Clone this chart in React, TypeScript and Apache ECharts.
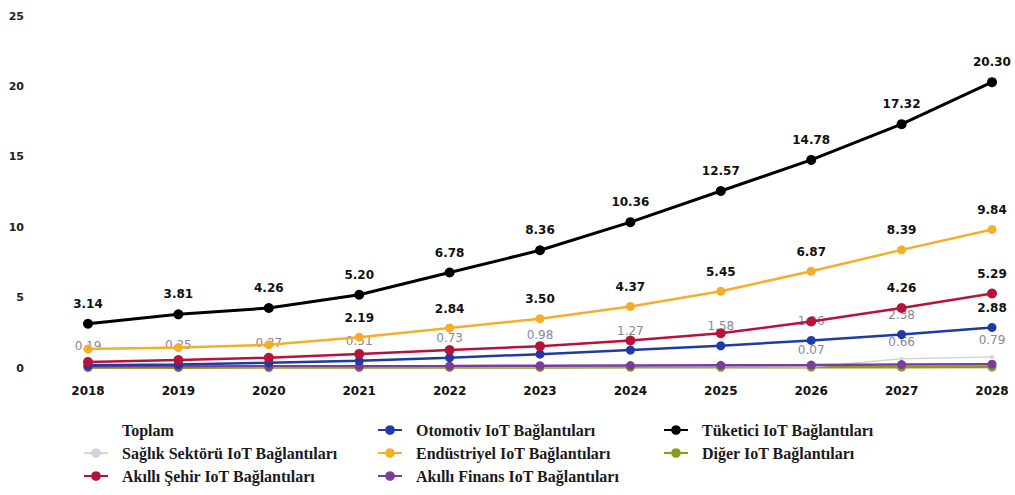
import React, { useEffect, useRef } from "react";
import * as echarts from "echarts";

const years = ["2018", "2019", "2020", "2021", "2022", "2023", "2024", "2025", "2026", "2027", "2028"];
const yTicks = [0, 5, 10, 15, 20, 25];

const tuketici = [3.14, 3.81, 4.26, 5.2, 6.78, 8.36, 10.36, 12.57, 14.78, 17.32, 20.3];
const endustriyel = [1.35, 1.45, 1.65, 2.19, 2.84, 3.5, 4.37, 5.45, 6.87, 8.39, 9.84];
const akilliSehir = [0.43, 0.57, 0.73, 1.0, 1.28, 1.55, 1.95, 2.47, 3.3, 4.26, 5.29];
const otomotiv = [0.19, 0.25, 0.37, 0.51, 0.73, 0.98, 1.27, 1.58, 1.96, 2.38, 2.88];
const akilliFinans = [0.1, 0.11, 0.12, 0.13, 0.14, 0.16, 0.17, 0.19, 0.21, 0.24, 0.27];
const diger = [0.02, 0.02, 0.03, 0.03, 0.04, 0.04, 0.05, 0.05, 0.06, 0.06, 0.07];
const saglik = [0.04, 0.05, 0.06, 0.07, 0.08, 0.09, 0.1, 0.11, 0.07, 0.66, 0.79];
const toplam: number[] = [];

// which points carry a visible data label
const tuketiciLabeled = [0, 1, 2, 3, 4, 5, 6, 7, 8, 9, 10];
const endustriyelLabeled = [3, 4, 5, 6, 7, 8, 9, 10];
const akilliSehirLabeled = [9, 10];
const otomotivGrayLabeled = [0, 1, 2, 3, 4, 5, 6, 7, 8, 9];
const otomotivDarkLabeled = [10];
const saglikLabeled = [8, 9, 10];

const NAMES = {
  toplam: "Toplam",
  saglik: "Sağlık Sektörü IoT Bağlantıları",
  sehir: "Akıllı Şehir IoT Bağlantıları",
  otomotiv: "Otomotiv IoT Bağlantıları",
  endustriyel: "Endüstriyel IoT Bağlantıları",
  finans: "Akıllı Finans IoT Bağlantıları",
  tuketici: "Tüketici IoT Bağlantıları",
  diger: "Diğer IoT Bağlantıları",
};

const darkLabel = {
  show: true,
  position: "top",
  distance: 9,
  color: "#111",
  fontFamily: "DejaVu Sans",
  fontWeight: "bold",
  fontSize: 12,
  formatter: (p: any) => Number(p.value).toFixed(2),
};
const grayLabel = {
  ...darkLabel,
  color: "#8a8794",
  fontWeight: "normal",
};

function build(values: number[], labeledDark: number[], labeledGray: number[] = []) {
  return values.map((v, i) => {
    if (labeledDark.includes(i)) return { value: v, label: darkLabel };
    if (labeledGray.includes(i)) return { value: v, label: grayLabel };
    return { value: v, label: { show: false } };
  });
}

function lineSeries(name: string, color: string, data: any[], width = 2.5, size = 9, z = 2) {
  return {
    name,
    type: "line",
    data,
    symbol: "circle",
    symbolSize: size,
    lineStyle: { color, width },
    itemStyle: { color },
    z,
    label: { show: false },
  };
}

export default function App() {
  const ref = useRef<HTMLDivElement>(null);
  useEffect(() => {
    document.body.style.margin = "0";
    const chart = echarts.init(ref.current!, null, { renderer: "svg" });
    const legendText = {
      fontFamily: "Liberation Serif",
      fontWeight: "bold",
      fontSize: 16,
      color: "#1a1a1a",
      padding: [0, 0, 0, 9],
    };
    const legendBase = {
      orient: "vertical",
      top: 422,
      height: 80,
      padding: 0,
      itemWidth: 24,
      itemHeight: 12,
      itemGap: 7,
      textStyle: legendText,
      selectedMode: false,
    };
    chart.setOption({
      animation: false,
      backgroundColor: "#fff",
      grid: { left: 88, right: 23, top: 16, bottom: 127 },
      legend: [
        { ...legendBase, left: 83, data: [NAMES.toplam, NAMES.saglik, NAMES.sehir] },
        { ...legendBase, left: 377, data: [NAMES.otomotiv, NAMES.endustriyel, NAMES.finans] },
        { ...legendBase, left: 663, data: [NAMES.tuketici, NAMES.diger] },
      ],
      xAxis: {
        type: "category",
        data: years,
        boundaryGap: false,
        axisLine: { show: false },
        axisTick: { show: false },
        axisLabel: {
          margin: 17,
          color: "#111",
          fontFamily: "DejaVu Sans",
          fontWeight: "bold",
          fontSize: 12,
        },
      },
      yAxis: {
        type: "value",
        min: yTicks[0],
        max: yTicks[yTicks.length - 1],
        interval: 5,
        splitLine: { show: false },
        axisLine: { show: false },
        axisTick: { show: false },
        axisLabel: {
          margin: 64,
          color: "#222",
          fontFamily: "DejaVu Sans",
          fontWeight: "bold",
          fontSize: 11,
        },
      },
      series: [
        lineSeries(NAMES.toplam, "rgba(255,255,255,0)", toplam, 2, 6, 1),
        lineSeries(NAMES.diger, "#8d9b1c", build(diger, []), 2.5, 9, 2),
        lineSeries(NAMES.saglik, "#d6d1e0", build(saglik, [], saglikLabeled), 1.5, 4, 2),
        lineSeries(NAMES.finans, "#7a3d9c", build(akilliFinans, []), 2.5, 9, 3),
        lineSeries(NAMES.otomotiv, "#1f3aa6", build(otomotiv, otomotivDarkLabeled, otomotivGrayLabeled), 2.5, 9, 4),
        lineSeries(NAMES.sehir, "#b8123a", build(akilliSehir, akilliSehirLabeled), 2.5, 10, 5),
        lineSeries(NAMES.endustriyel, "#f6ae2a", build(endustriyel, endustriyelLabeled), 2.5, 9, 6),
        lineSeries(NAMES.tuketici, "#000000", build(tuketici, tuketiciLabeled), 3, 10, 7),
      ],
    });
    return () => chart.dispose();
  }, []);
  return <div ref={ref} style={{ width: 1015, height: 495 }} />;
}
